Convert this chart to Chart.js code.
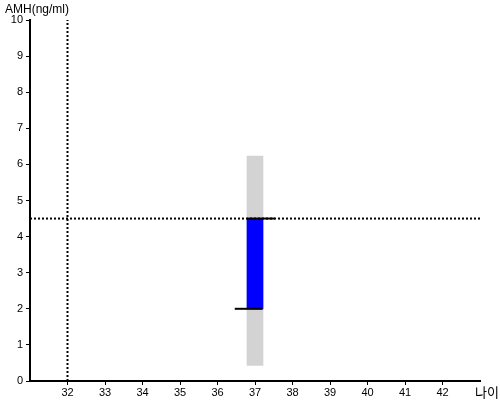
<!DOCTYPE html>
<html><head><meta charset="utf-8">
<script src="https://cdn.jsdelivr.net/npm/chart.js@4/dist/chart.umd.min.js"></script>
<style>html,body{margin:0;padding:0;background:#fff}#wrap{width:500px;height:400px}</style>
</head><body><div id="wrap"><canvas id="c" width="500" height="400"></canvas></div>
<script>
const ageTicks = [32,33,34,35,36,37,38,39,40,41,42];
const amhTicks = [0,1,2,3,4,5,6,7,8,9,10];
const age = 37;
const rangeLow = 0.43, rangeHigh = 6.23;
const amhLow = 2.0, amhHigh = 4.5;
const refAge = 32, refAmh = 4.5;
const upperMarkX = [36.79, 37.53];
const lowerMarkX = [36.46, 37.2];
const xMin = 31, xMax = 43, yMin = 0, yMax = 10;

const overlay = {
  id:'overlay',
  afterDraw(chart){
    const ctx = chart.ctx;
    ctx.save();
    ctx.fillStyle = '#000';
    ctx.textBaseline = 'middle';
    ctx.font = '12px "Liberation Sans", Arial, sans-serif';
    ctx.textAlign = 'left';
    ctx.fillText('AMH(ng/ml)', 5, 10);
    ctx.font = '13px "Noto Sans CJK KR", sans-serif';
    ctx.fillText('나이', 475, 392);
    ctx.restore();
  }
};

new Chart(document.getElementById('c'), {
  type:'bar',
  data:{
    datasets:[
      {type:'line', data:[{x:upperMarkX[0],y:amhHigh},{x:upperMarkX[1],y:amhHigh}], borderColor:'#000', borderWidth:2, pointRadius:0, order:-2},
      {type:'line', data:[{x:lowerMarkX[0],y:amhLow},{x:lowerMarkX[1],y:amhLow}], borderColor:'#000', borderWidth:2, pointRadius:0, order:-2},
      {type:'line', data:[{x:refAge,y:yMin},{x:refAge,y:yMax}], borderColor:'#000', borderWidth:2, borderDash:[2,2], pointRadius:0, order:0},
      {type:'line', data:[{x:xMin,y:refAmh},{x:xMax,y:refAmh}], borderColor:'#000', borderWidth:2, borderDash:[2,2], pointRadius:0, order:0},
      {data:[{x:age,y:[amhLow,amhHigh]}], backgroundColor:'#0000ff', barThickness:16, grouped:false, order:1},
      {data:[{x:age,y:[rangeLow,rangeHigh]}], backgroundColor:'#d3d3d3', barThickness:16, grouped:false, order:2}
    ]
  },
  options:{
    responsive:false, animation:false,
    layout:{padding:{left:0,right:20,top:20,bottom:0}},
    plugins:{legend:{display:false}, tooltip:{enabled:false}},
    scales:{
      x:{type:'linear', min:xMin, max:xMax, offset:false,
        afterBuildTicks(a){ a.ticks = ageTicks.map(v=>({value:v})); },
        afterFit(a){ a.height = 19; },
        grid:{offset:false, drawOnChartArea:false, drawTicks:true, tickLength:4, color:'#000', lineWidth:1},
        border:{display:true, color:'#000', width:2},
        ticks:{color:'#000', padding:1, font:{size:11, family:'"Liberation Sans", Arial, sans-serif'}, maxRotation:0, autoSkip:false}
      },
      y:{min:yMin, max:yMax,
        afterBuildTicks(a){ a.ticks = amhTicks.map(v=>({value:v})); },
        afterFit(a){ a.width = 30; },
        grid:{offset:false, drawOnChartArea:false, drawTicks:true, tickLength:4, color:'#000', lineWidth:1},
        border:{display:true, color:'#000', width:2},
        ticks:{color:'#000', padding:3, font:{size:11, family:'"Liberation Sans", Arial, sans-serif'}}
      }
    }
  },
  plugins:[overlay]
});
</script></body></html>
